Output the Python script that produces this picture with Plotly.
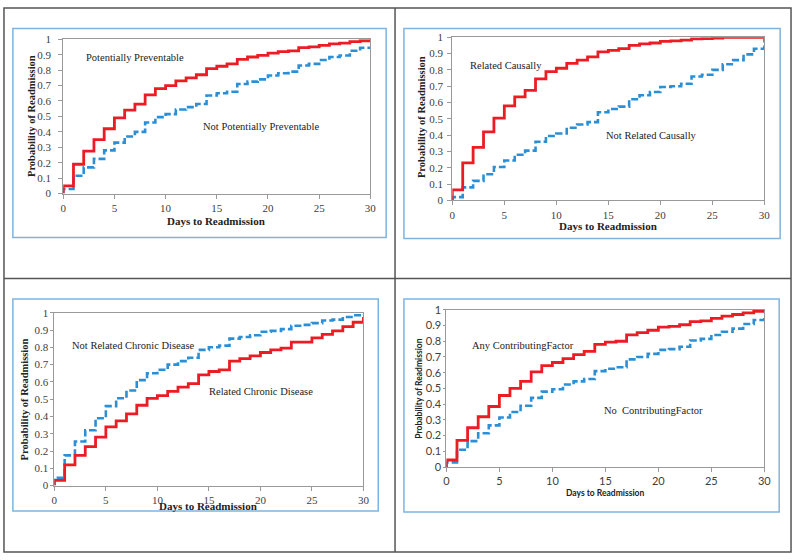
import plotly.graph_objects as go

W, H = 800, 560

days = list(range(0, 31))

# Panel 1
p1_red = [0.05, 0.19, 0.275, 0.35, 0.42, 0.49, 0.54, 0.58, 0.64, 0.68, 0.70, 0.73, 0.75, 0.77, 0.81,
          0.825, 0.84, 0.87, 0.885, 0.895, 0.91, 0.92, 0.925, 0.945, 0.95, 0.96, 0.97, 0.975, 0.985, 0.99, 1.0]
p1_blue = [0.03, 0.115, 0.17, 0.225, 0.28, 0.33, 0.37, 0.40, 0.46, 0.495, 0.515, 0.545, 0.56, 0.58, 0.635,
           0.65, 0.66, 0.71, 0.725, 0.74, 0.765, 0.78, 0.79, 0.83, 0.84, 0.865, 0.885, 0.895, 0.925, 0.945, 0.95]
# Panel 2
p2_red = [0.065, 0.23, 0.325, 0.42, 0.505, 0.58, 0.635, 0.675, 0.745, 0.79, 0.81, 0.84, 0.86, 0.88, 0.91,
          0.92, 0.93, 0.95, 0.96, 0.965, 0.975, 0.978, 0.982, 0.99, 0.992, 0.995, 1.0, 1.0, 1.0, 1.0, 1.0]
p2_blue = [0.02, 0.08, 0.12, 0.16, 0.205, 0.245, 0.28, 0.305, 0.36, 0.395, 0.41, 0.445, 0.465, 0.48, 0.54,
           0.56, 0.575, 0.62, 0.645, 0.665, 0.695, 0.70, 0.715, 0.76, 0.77, 0.80, 0.835, 0.86, 0.895, 0.93, 0.99]
# Panel 3
p3_blue = [0.045, 0.175, 0.255, 0.32, 0.39, 0.46, 0.505, 0.55, 0.61, 0.65, 0.67, 0.70, 0.72, 0.74, 0.785,
           0.80, 0.81, 0.85, 0.86, 0.87, 0.89, 0.895, 0.905, 0.925, 0.93, 0.94, 0.955, 0.96, 0.975, 0.985, 0.99]
p3_red = [0.03, 0.12, 0.175, 0.225, 0.28, 0.34, 0.375, 0.415, 0.465, 0.505, 0.52, 0.545, 0.57, 0.59, 0.64,
          0.66, 0.67, 0.72, 0.735, 0.75, 0.77, 0.785, 0.795, 0.83, 0.83, 0.855, 0.875, 0.895, 0.92, 0.945, 0.975]
# Panel 4
p4_red = [0.045, 0.17, 0.25, 0.32, 0.385, 0.455, 0.50, 0.545, 0.605, 0.645, 0.665, 0.69, 0.715, 0.735, 0.78,
          0.795, 0.80, 0.84, 0.855, 0.87, 0.89, 0.895, 0.905, 0.925, 0.93, 0.945, 0.96, 0.97, 0.98, 0.99, 0.995]
p4_blue = [0.03, 0.11, 0.165, 0.215, 0.265, 0.315, 0.35, 0.39, 0.44, 0.48, 0.495, 0.525, 0.545, 0.56, 0.61,
           0.625, 0.635, 0.685, 0.70, 0.72, 0.745, 0.75, 0.765, 0.805, 0.815, 0.84, 0.86, 0.88, 0.91, 0.935, 0.95]

x_ticks = [0, 5, 10, 15, 20, 25, 30]
y_ticks = [0, 0.1, 0.2, 0.3, 0.4, 0.5, 0.6, 0.7, 0.8, 0.9, 1]
y_tick_text = ["0", "0.1", "0.2", "0.3", "0.4", "0.5", "0.6", "0.7", "0.8", "0.9", "1"]

RED = "#ec1c24"
BLUE = "#2b8fd6"


def px(x):
    return x / W


def py(y):
    return 1 - y / H


panels = [
    dict(plot=(61, 372, 33, 191), box=(10, 388, 22, 236), serif=True, ylen=4, ystand=5,
         red=p1_red, blue=p1_blue,
         labels=[("Potentially Preventable", 82, 52), ("Not Potentially Preventable", 200, 122)],
         xt=(216, 219), yt=(29, 112)),
    dict(plot=(455, 771, 31, 198), box=(406, 787, 22, 237), serif=True, ylen=4, ystand=2,
         red=p2_red, blue=p2_blue,
         labels=[("Related Causally", 471, 60), ("Not Related Causally", 609, 132)],
         xt=(613, 224), yt=(424, 113)),
    dict(plot=(52, 365, 313, 490), box=(10, 380, 299, 516), serif=True, ylen=3, ystand=0,
         red=p3_red, blue=p3_blue,
         labels=[("Not Related Chronic Disease", 68, 347), ("Related Chronic Disease", 207, 394)],
         xt=(208, 511), yt=(22, 402)),
    dict(plot=(449, 771, 310, 471), box=(406, 786, 299, 517), serif=False, ylen=2, ystand=0,
         red=p4_red, blue=p4_blue,
         labels=[("Any ContributingFactor", 473, 347), ("No  ContributingFactor", 607, 413)],
         xt=(610, 498), yt=(421, 391)),
]

fig = go.Figure()
layout = dict(width=W, height=H, margin=dict(l=0, r=0, t=0, b=0),
              paper_bgcolor="white", plot_bgcolor="white", showlegend=False)
shapes = []
annotations = []

for i, p in enumerate(panels):
    n = "" if i == 0 else str(i + 1)
    l, r, t, b = p["plot"]
    tickfont = dict(family="Liberation Serif" if p["serif"] else "Lato",
                    size=11, color="#404040")
    layout["xaxis" + n] = dict(domain=[px(l), px(r)], range=[0, 30], anchor="y" + n,
                               tickvals=x_ticks, ticks="outside", ticklen=4, tickcolor="#999",
                               showline=True, mirror=True, linecolor="#999", linewidth=1,
                               showgrid=False, zeroline=False, tickfont=tickfont, fixedrange=True)
    layout["yaxis" + n] = dict(domain=[py(b), py(t)], range=[0, 1], anchor="x" + n,
                               tickvals=y_ticks, ticktext=y_tick_text, ticks="outside",
                               ticklen=p["ylen"], tickcolor="#999", showline=True, mirror=True,
                               linecolor="#999", linewidth=1, showgrid=False, zeroline=False,
                               tickfont=tickfont, ticklabelstandoff=p["ystand"], fixedrange=True)
    xs = [0] + days
    fig.add_trace(go.Scatter(x=xs, y=[0] + p["blue"], mode="lines", line_shape="hv",
                             line=dict(color=BLUE, width=2.6, dash="7px,3px"),
                             xaxis="x" + n, yaxis="y" + n, cliponaxis=False, hoverinfo="skip"))
    fig.add_trace(go.Scatter(x=xs, y=[0] + p["red"], mode="lines", line_shape="hv",
                             line=dict(color=RED, width=2.8),
                             xaxis="x" + n, yaxis="y" + n, cliponaxis=False, hoverinfo="skip"))
    bl, br, bt, bb = p["box"]
    shapes.append(dict(type="rect", xref="paper", yref="paper", x0=px(bl), x1=px(br),
                       y0=py(bb), y1=py(bt), line=dict(color="#7fb4e0", width=1.5)))
    for text, lx, ly in p["labels"]:
        annotations.append(dict(text=text, xref="paper", yref="paper", x=px(lx), y=py(ly),
                                xanchor="left", yanchor="middle", showarrow=False,
                                font=dict(family="Liberation Serif", size=10.5, color="#222")))
    tfam = "Liberation Serif" if p["serif"] else "Lato"
    xsize = 11 if p["serif"] else 8.5
    ysize = 10.5 if p["serif"] else 8.5
    annotations.append(dict(text="<b>Days to Readmission</b>", xref="paper", yref="paper",
                            x=px(p["xt"][0]), y=py(p["xt"][1]), xanchor="center", yanchor="middle",
                            showarrow=False, font=dict(family=tfam, size=xsize, color="#222")))
    annotations.append(dict(text="<b>Probability of Readmission</b>", xref="paper", yref="paper",
                            x=px(p["yt"][0]), y=py(p["yt"][1]), xanchor="center", yanchor="middle",
                            textangle=-90, showarrow=False,
                            font=dict(family=tfam, size=ysize, color="#222")))

# outer frame and dividers
frame = dict(color="#555", width=1.5)
shapes.append(dict(type="rect", xref="paper", yref="paper", x0=px(1), x1=px(798), y0=py(558), y1=py(1),
                   line=frame))
shapes.append(dict(type="line", xref="paper", yref="paper", x0=px(397), x1=px(397), y0=py(558), y1=py(1),
                   line=frame))
shapes.append(dict(type="line", xref="paper", yref="paper", x0=px(1), x1=px(798), y0=py(278), y1=py(278),
                   line=frame))

layout["shapes"] = shapes
layout["annotations"] = annotations
fig.update_layout(**layout)
fig.write_html("out.html", config={"displayModeBar": False, "staticPlot": True},
               post_script="document.body.style.margin='0';document.body.style.overflow='hidden';")
